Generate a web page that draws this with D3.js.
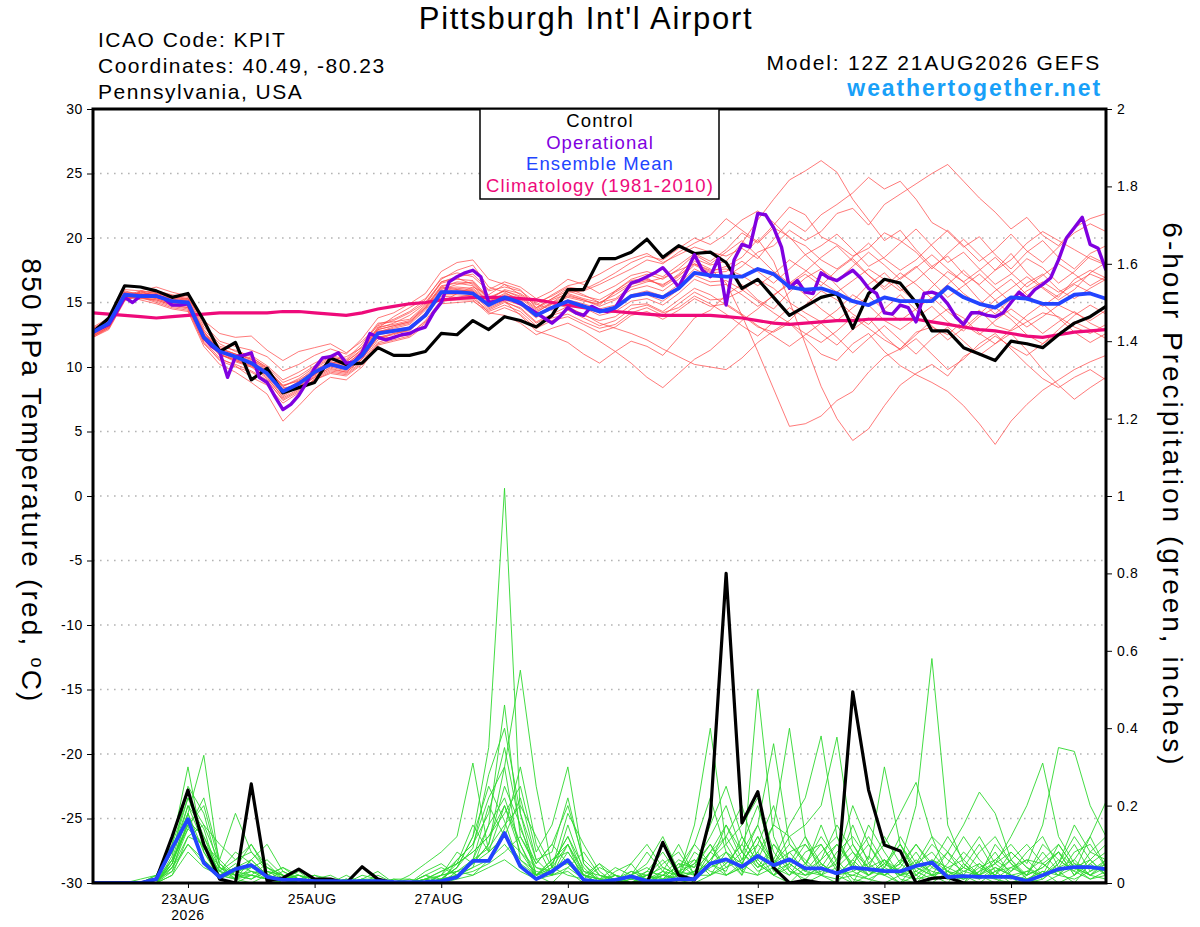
<!DOCTYPE html>
<html>
<head>
<meta charset="utf-8">
<script src="https://cdn.jsdelivr.net/npm/d3@7"></script>
<style>
  body { margin: 0; background: #fff; }
  svg { font-family: "Liberation Sans", Arial, Helvetica, sans-serif; }
</style>
</head>
<body>
<div id="chart"></div>
<script>
// ---- data (6-hourly steps from 12Z 21AUG2026, 0..384 h) ----
const runStart = Date.UTC(2026, 7, 21, 12);

const controlTemp = [12.7,13.8,16.3,16.2,15.9, 15.4,15.7,13.6,11.2,11.9, 9.0,9.9,8.0,8.4,8.8,
  10.7,10.2,10.3,11.5,10.9, 10.9,11.2,12.6,12.5,13.6, 12.9,13.9,13.6,13.1,14.0,
  16.0,16.0,18.4,18.4,18.9, 19.9,18.5,19.4,18.8,18.9, 18.1,16.1,16.8,15.4,14.0,
  14.7,15.4,15.7,13.0,15.7, 16.8,16.5,15.0,12.8,12.8, 11.5,11.0,10.5,12.0,11.8,
  11.5,12.5,13.4,13.9,14.7];

const meanTemp = [12.7,13.4,15.6,15.5,15.5, 15.1,15.0,12.3,11.2,10.8, 10.3,9.5,8.1,8.7,9.6,
  10.2,9.9,10.9,12.6,12.8, 13.0,14.0,15.8,15.8,15.7, 14.8,15.4,15.0,14.0,14.6,
  15.1,14.7,14.3,14.6,15.5, 15.7,15.4,16.1,17.3,17.1, 17.0,17.0,17.6,17.2,16.2,
  16.0,16.1,15.7,15.1,14.8, 15.4,15.1,15.1,15.1,16.2, 15.4,14.9,14.6,15.4,15.3,
  14.9,14.9,15.6,15.7,15.3];

const climTemp = [14.2,14.1,14.0,13.9,13.8, 13.9,14.0,14.1,14.2,14.2, 14.2,14.2,14.3,14.3,14.2,
  14.1,14.0,14.2,14.5,14.7, 14.9,15.0,15.2,15.3,15.4, 15.4,15.4,15.3,15.2,15.0,
  14.8,14.6,14.4,14.3,14.2, 14.1,14.0,14.0,14.0,14.0, 13.9,13.8,13.6,13.4,13.3,
  13.4,13.5,13.6,13.6,13.7, 13.7,13.7,13.7,13.5,13.3, 13.1,12.9,12.8,12.6,12.4,
  12.3,12.5,12.7,12.8,12.9];

// operational run is 3-hourly (129 values)
const operTemp = [12.7,13.0,13.3,14.3,15.4,15.0,15.5,15.5,15.5,15.3,
  14.8,14.8,14.9,13.6,12.3,11.6,11.2,9.2,10.8,10.9,
  11.1,9.2,8.8,7.7,6.7,7.1,7.8,8.8,9.9,10.7,
  10.8,11.1,10.3,10.4,11.1,12.6,12.3,12.1,12.3,12.5,
  12.6,12.9,13.1,14.2,15.0,16.6,17.0,17.3,17.5,17.0,
  15.0,15.1,15.3,15.2,14.9,14.6,14.2,13.8,13.4,13.9,
  14.6,14.2,14.0,14.7,14.4,14.3,14.6,15.6,16.5,16.7,
  17.0,17.3,17.7,17.0,16.2,17.4,18.7,17.5,17.0,18.4,
  14.8,18.3,19.5,19.3,21.9,21.8,20.8,19.3,16.1,16.7,
  15.8,15.7,17.3,16.9,16.7,17.1,17.5,16.9,16.1,15.7,
  14.2,14.1,14.8,14.6,13.5,15.7,15.8,15.6,14.9,13.9,
  13.3,14.2,14.2,14.0,13.9,14.2,15.0,15.8,15.3,16.0,
  16.4,16.9,18.3,20.0,20.8,21.6,19.5,19.2,17.5];

const memberTemp = [
  [12.5,13.2,15.4,15.8,15.6,15.3,15.2,12.8,11.0,10.4,10.0,9.8,8.6,8.9,9.4,10.5,10.8,11.5,13.0,13.9,14.6,15.3,16.8,17.5,17.9,16.2,15.8,15.1,14.2,15.0,15.8,15.9,16.4,17.0,17.6,18.3,18.0,18.9,19.6,20.2,21.5,20.6,19.7,21.0,22.4,21.8,20.1,19.5,18.6,19.2,20.4,19.8,18.9,17.6,18.8,19.9,18.7,17.5,18.3,19.6,20.5,19.8,19.1,18.4,17.9],
  [12.9,13.6,15.7,15.4,15.2,14.8,14.6,12.0,10.7,10.1,9.2,8.6,7.2,8.0,9.1,9.7,9.5,10.4,12.1,12.6,12.8,13.9,15.5,15.4,15.3,14.4,15.0,14.6,13.5,14.1,14.7,14.0,13.6,13.9,14.8,14.9,14.3,15.2,16.1,15.6,14.8,14.0,13.1,12.7,13.4,12.2,11.0,10.5,11.8,12.6,11.2,10.1,9.4,8.8,8.1,7.0,5.6,4.0,5.8,7.1,8.2,9.0,9.8,10.4,10.9],
  [12.4,13.0,15.2,15.6,15.9,15.6,15.4,13.1,11.8,11.2,10.9,10.1,9.0,9.6,10.3,10.9,10.6,11.8,13.4,13.5,13.7,14.8,16.6,16.9,16.4,15.2,16.0,15.7,14.9,14.4,15.6,15.2,14.8,15.9,16.7,16.9,16.2,17.0,18.2,17.6,16.5,14.0,11.2,8.3,5.4,5.6,6.2,7.4,8.1,9.6,10.8,11.4,12.7,13.1,12.5,13.6,14.4,13.2,12.8,13.5,14.2,13.9,13.1,12.6,13.3],
  [13.1,13.8,16.0,15.9,15.4,15.0,14.9,12.5,11.4,11.0,10.6,9.9,8.4,8.5,9.2,10.0,9.7,10.7,12.4,12.2,12.6,13.5,15.0,15.7,16.2,15.6,16.4,16.0,14.6,15.3,16.1,15.6,15.0,15.3,16.2,16.6,16.9,17.5,18.0,17.4,17.8,18.5,19.9,18.2,15.1,11.8,8.5,6.0,4.3,5.2,7.0,8.6,9.5,10.2,9.3,10.8,11.5,12.4,11.6,10.9,11.8,12.6,13.5,12.9,12.2],
  [12.6,13.3,15.5,15.3,15.6,15.2,15.1,12.2,10.9,10.6,10.2,9.3,7.8,8.6,9.8,10.4,10.2,11.2,12.9,13.2,13.5,14.6,16.2,16.0,15.8,14.6,15.2,14.8,13.8,14.9,15.4,15.1,14.9,15.8,16.5,16.8,16.3,17.2,18.4,17.9,18.2,19.6,21.4,23.0,24.5,25.2,26.0,25.1,23.0,21.4,19.8,20.6,19.1,17.8,18.6,17.2,16.4,17.5,18.8,17.3,16.2,15.4,16.8,17.5,16.9],
  [12.8,13.5,15.8,15.7,15.3,14.9,14.7,12.4,11.2,10.7,10.4,9.6,8.2,8.8,9.5,10.1,9.8,10.9,12.8,12.9,13.1,14.2,15.9,16.1,16.0,15.0,15.6,15.2,14.1,14.7,15.2,14.9,14.5,14.8,15.6,15.9,15.5,16.4,17.6,17.0,17.0,17.8,18.9,19.4,20.6,19.8,20.5,21.9,22.3,21.0,22.6,23.4,24.2,25.0,25.7,24.4,23.1,22.0,20.7,21.6,20.2,19.4,20.8,21.5,21.9],
  [12.3,12.9,15.1,15.9,16.2,15.8,15.5,13.3,12.0,11.6,11.3,10.8,9.7,10.2,10.9,11.4,11.0,12.2,13.8,14.2,14.9,15.7,17.4,18.1,18.3,16.8,16.4,15.6,14.8,15.6,16.3,16.6,17.2,17.9,18.4,18.8,18.1,18.7,19.3,18.9,18.6,19.2,18.4,19.9,21.3,20.5,21.8,22.6,23.5,24.7,23.8,24.4,23.0,21.2,20.5,19.3,20.1,18.7,17.6,18.9,19.8,18.5,17.6,18.8,19.4],
  [12.7,13.4,15.6,15.2,14.9,14.5,14.3,11.6,10.2,9.6,8.8,7.9,5.8,7.0,8.3,9.2,9.0,10.0,11.7,12.0,12.3,13.2,14.9,15.0,15.1,14.3,14.8,14.3,13.2,13.8,14.1,13.5,13.0,13.3,14.2,14.6,14.0,14.9,15.8,15.2,15.3,15.9,16.8,16.1,15.0,14.2,13.5,14.4,15.6,14.8,13.6,12.9,13.8,14.7,13.5,12.8,13.9,14.6,13.7,12.5,11.8,12.9,14.0,14.8,14.1],
  [13.0,13.7,15.9,15.6,15.8,15.5,15.3,13.6,12.6,12.3,12.4,11.3,10.5,11.2,11.5,11.8,11.1,12.0,13.2,13.6,14.2,15.0,16.6,17.0,17.2,16.0,16.6,16.2,15.3,15.9,16.8,16.4,15.7,16.3,17.1,17.4,17.0,17.9,18.8,18.2,19.1,20.4,19.6,20.8,20.1,18.7,19.4,20.3,19.1,17.8,18.5,19.6,20.7,19.4,18.1,18.9,17.6,16.4,17.2,18.4,17.7,16.5,17.4,18.6,18.0],
  [12.4,13.1,15.3,15.4,15.1,14.7,14.5,11.9,10.5,10.0,9.6,8.9,7.5,8.2,9.0,9.6,9.4,10.3,11.9,12.3,12.5,13.6,15.2,15.4,15.6,14.5,15.1,14.5,13.4,14.0,14.4,13.8,13.2,13.6,14.5,14.8,14.2,14.6,15.5,14.9,14.1,13.2,12.4,13.5,14.6,13.8,12.6,11.7,12.9,13.8,12.4,11.3,12.2,11.0,9.8,10.6,11.8,12.6,11.4,10.2,9.1,8.4,9.2,9.8,9.0],
  [12.6,13.3,15.5,15.9,15.7,15.4,15.1,12.6,11.3,10.9,10.5,9.7,8.3,8.7,9.4,10.3,10.1,11.1,12.7,13.0,13.3,14.4,16.0,16.4,16.6,15.3,15.1,14.0,12.8,12.4,11.9,11.0,10.3,11.2,12.0,11.6,10.9,12.3,13.8,14.4,15.6,16.4,15.2,14.5,15.8,16.9,17.6,16.3,15.1,16.4,17.3,16.1,15.0,16.2,17.4,16.6,15.2,14.1,15.3,16.5,17.2,16.0,15.3,16.1,16.8],
  [12.9,13.5,15.6,15.5,15.5,15.0,14.8,12.1,11.0,10.5,10.1,9.4,8.0,8.4,9.3,9.9,9.6,10.6,12.3,12.5,12.9,14.0,15.6,15.6,15.5,14.2,14.0,13.4,12.5,13.0,13.4,12.8,12.0,11.2,10.3,9.2,8.4,9.5,10.6,11.3,12.4,13.6,14.5,15.6,16.4,17.2,16.3,17.5,18.4,17.1,16.0,16.9,17.8,16.6,15.4,16.3,17.2,16.1,15.0,15.9,16.6,15.8,16.5,17.2,16.7],
  [12.5,13.1,15.3,15.6,15.4,15.1,14.9,12.3,11.1,10.8,10.3,9.5,8.1,8.9,9.9,10.6,10.4,11.4,13.1,13.3,13.6,14.7,16.3,16.5,16.3,15.0,15.5,15.0,14.3,14.9,14.6,14.1,13.4,13.0,12.6,12.1,11.4,10.8,10.2,10.0,9.8,10.7,11.9,12.8,13.6,14.8,15.9,15.2,14.1,13.3,14.5,15.6,14.4,13.2,12.1,13.0,14.1,15.2,14.0,13.1,13.9,14.8,14.2,13.6,14.4],
  [12.8,13.5,15.7,15.6,15.6,15.3,15.0,12.7,11.5,11.0,10.7,10.0,8.8,9.3,10.1,10.8,10.5,11.6,13.3,13.7,14.3,15.2,16.9,17.3,17.0,15.9,16.2,15.9,15.0,15.5,16.2,16.0,16.6,17.3,18.1,18.6,18.3,19.2,20.0,19.5,20.3,21.4,22.1,21.2,20.0,19.4,18.3,17.6,18.5,19.6,18.4,17.5,18.3,19.5,20.6,19.4,18.2,19.1,20.3,19.0,18.1,19.3,20.4,21.1,20.5],
  [12.3,13.0,15.2,15.5,15.7,15.4,15.3,12.9,11.6,11.3,10.8,9.9,8.5,9.1,10.0,10.7,10.4,11.3,13.0,13.4,14.0,14.9,16.5,16.8,16.7,15.4,15.9,15.4,14.5,15.2,15.7,15.3,15.0,15.6,16.4,16.7,16.4,17.1,18.0,17.5,17.6,17.1,16.3,17.2,18.3,17.5,16.6,15.8,16.7,17.6,16.8,15.9,16.7,17.8,16.9,15.7,14.8,15.9,16.8,15.6,14.7,15.6,16.4,15.8,15.2],
  [12.6,13.2,15.4,15.3,15.2,14.8,14.6,12.2,11.1,10.6,10.1,9.2,7.6,8.3,9.2,9.8,9.6,10.6,12.3,12.6,12.9,14.1,15.7,15.9,15.9,14.8,15.4,14.9,13.9,14.5,15.0,14.6,14.0,14.3,15.1,15.3,14.8,15.7,16.8,16.3,16.4,15.6,14.7,15.5,16.6,15.6,14.5,13.6,14.6,15.5,14.4,13.6,14.5,15.4,14.3,13.3,12.5,13.6,14.5,13.6,12.6,13.5,14.3,13.4,12.8],
  [13.0,13.6,15.8,15.4,15.0,14.6,14.4,11.8,10.6,10.2,9.7,9.0,7.4,8.1,9.0,9.5,9.3,10.2,11.8,12.1,12.4,13.4,15.1,15.2,15.2,14.1,14.6,14.1,13.0,13.6,13.9,13.3,12.7,13.1,14.0,14.3,13.7,14.4,15.3,14.7,14.9,14.1,13.2,12.4,11.6,12.5,13.4,12.3,11.1,12.2,13.2,12.1,11.0,12.2,13.1,12.0,10.9,11.8,12.6,11.3,9.8,8.6,7.5,8.4,9.2],
  [12.7,13.4,15.6,15.7,15.5,15.2,15.0,12.5,11.3,10.8,10.4,9.6,8.2,8.8,9.6,10.3,10.0,11.0,12.7,13.1,13.4,14.5,16.1,16.2,16.1,15.1,15.7,15.3,14.4,15.0,15.5,15.2,14.7,15.2,16.0,16.3,15.9,16.8,17.9,17.3,17.4,18.2,17.4,16.5,17.6,18.7,17.6,16.7,17.8,18.9,17.9,16.8,17.7,18.7,17.6,16.6,17.5,18.5,17.3,16.2,17.1,18.0,17.2,16.3,17.0],
  [12.4,13.1,15.3,15.8,15.9,15.5,15.2,12.7,11.4,11.0,10.6,9.8,8.5,9.0,9.7,10.4,10.2,11.2,12.9,13.2,13.5,14.6,16.2,16.6,16.5,15.3,15.9,15.5,14.6,15.3,15.9,15.5,15.2,15.9,16.8,17.2,16.8,17.6,18.7,18.0,18.9,19.8,18.6,17.4,16.5,17.4,18.5,19.4,18.2,17.1,16.2,17.3,16.4,15.3,16.4,17.5,16.3,15.2,16.1,17.0,16.1,15.2,16.0,17.3,18.1],
  [12.8,13.3,15.5,15.4,15.3,14.9,14.8,12.4,11.0,10.5,10.0,9.1,7.7,8.5,9.4,10.1,9.9,10.8,12.5,12.7,13.0,14.1,15.8,16.0,15.9,14.9,15.5,15.1,14.1,14.6,15.0,14.6,14.2,14.6,15.4,15.6,15.1,16.0,17.1,16.6,16.7,16.0,15.1,14.2,13.4,12.6,11.9,12.8,13.9,13.0,12.1,11.4,12.5,13.6,14.5,13.8,12.6,11.8,12.9,14.0,14.9,13.8,12.7,11.9,12.6]
];

const controlPrecip = [0,0,0,0,0.01, 0.12,0.24,0.10,0.01,0, 0.256,0.005,0.013,0.036,0.01,
  0.01,0,0.042,0.01,0, 0,0,0,0,0, 0,0,0,0,0,
  0,0,0,0,0, 0,0.105,0.02,0.008,0.17, 0.80,0.155,0.236,0.04,0,
  0.007,0,0,0.494,0.24, 0.098,0.083,0,0.012,0.015, 0,0,0,0,0,
  0,0,0,0,0];

const meanPrecip = [0,0,0,0,0.01, 0.09,0.165,0.052,0.015,0.036, 0.046,0.016,0.008,0.008,0.005,
  0.005,0.004,0.005,0.005,0.003, 0.002,0.003,0.005,0.015,0.057, 0.057,0.129,0.043,0.01,0.03,
  0.059,0.008,0.003,0.008,0.017, 0.005,0.005,0.01,0.01,0.05, 0.061,0.042,0.07,0.046,0.061,
  0.038,0.038,0.025,0.04,0.036, 0.031,0.03,0.044,0.053,0.015, 0.018,0.016,0.016,0.016,0.005,
  0.02,0.036,0.041,0.041,0.036];

const memberPrecip = [
  [0,0,0,0,0.01,0.08,0.22,0.12,0.02,0.05,0.03,0.01,0,0.01,0,0,0,0.01,0,0,0,0,0.01,0.04,0.12,0.35,1.02,0.18,0.02,0.06,0.1,0,0,0.02,0,0,0.03,0,0.01,0.08,0.12,0.05,0.02,0.1,0.04,0,0.02,0.06,0.01,0,0.04,0.1,0.02,0,0.03,0,0.05,0.01,0,0.02,0.08,0.03,0,0.05,0.02],
  [0,0,0,0,0,0.05,0.18,0.33,0.04,0.02,0.06,0.02,0.01,0,0.01,0,0.01,0,0,0,0,0.02,0,0.06,0.1,0.22,0.3,0.55,0.25,0.04,0.02,0.01,0.05,0,0,0.02,0,0.04,0.1,0.22,0.08,0.02,0.5,0.12,0.03,0.01,0.05,0.02,0,0.07,0.02,0,0.05,0.12,0.02,0,0.03,0.08,0.02,0,0.01,0.04,0.1,0.03,0.05],
  [0,0,0,0.01,0.02,0.1,0.3,0.08,0.01,0,0.02,0.05,0.01,0,0,0,0,0,0.02,0,0,0,0,0.02,0.06,0.15,0.46,0.12,0.05,0.1,0.05,0.02,0,0,0.03,0.01,0,0.02,0.15,0.4,0.1,0.03,0.08,0.02,0,0.04,0.15,0.05,0,0.02,0.06,0.01,0,0.04,0.08,0.02,0,0.03,0.06,0.01,0,0.02,0.06,0.12,0.04],
  [0,0,0,0,0.01,0.06,0.15,0.2,0.05,0.01,0,0.02,0.04,0.01,0,0.01,0,0,0,0,0.02,0.05,0.08,0.12,0.31,0.08,0.2,0.1,0.02,0,0.04,0.08,0.02,0,0,0,0.01,0.05,0.02,0.06,0.12,0.2,0.06,0.15,0.4,0.12,0.02,0,0.05,0.1,0.03,0,0.02,0.05,0.01,0.04,0.1,0.03,0,0.01,0.03,0,0.02,0.08,0.12],
  [0,0,0,0,0,0.04,0.12,0.15,0.1,0.06,0.08,0.03,0.01,0.02,0,0,0,0.02,0.01,0,0,0.01,0.03,0.05,0.08,0.12,0.18,0.25,0.08,0.15,0.3,0.05,0.01,0,0.02,0.05,0.12,0.03,0,0.02,0.05,0.1,0.04,0.06,0.15,0.22,0.38,0.12,0.03,0.01,0,0.02,0.06,0.02,0,0.05,0.02,0,0.03,0.06,0.02,0.1,0.04,0.01,0.03],
  [0,0,0,0,0.02,0.08,0.2,0.1,0.03,0.01,0.04,0.06,0.02,0,0.01,0,0.02,0,0,0,0,0,0.02,0.08,0.05,0.1,0.25,0.15,0.02,0.05,0.12,0.02,0,0.03,0.05,0,0.02,0.06,0.04,0.1,0.02,0.05,0.12,0.03,0.05,0.02,0.06,0.15,0.08,0.04,0.12,0.05,0.2,0.58,0.15,0.05,0.01,0.04,0.02,0,0.05,0.02,0.01,0.03,0.06],
  [0,0,0,0,0,0.03,0.1,0.06,0.02,0.04,0.1,0.04,0.01,0.02,0.01,0,0,0.01,0.03,0,0,0.01,0,0.03,0.02,0.06,0.14,0.3,0.1,0.02,0.08,0.02,0.01,0,0.05,0.1,0.04,0.02,0.05,0.12,0.2,0.08,0.15,0.36,0.1,0.05,0.02,0.08,0.12,0.06,0.3,0.1,0.03,0.01,0.05,0.12,0.06,0.02,0.08,0.04,0.01,0.05,0.12,0.06,0.02],
  [0,0,0,0,0.01,0.05,0.16,0.12,0.04,0.02,0.02,0.01,0.03,0.01,0,0.01,0,0,0,0,0,0.02,0.04,0.02,0.06,0.2,0.12,0.08,0.04,0.03,0.06,0.01,0.04,0.02,0,0.01,0.05,0.08,0.02,0.05,0.03,0.12,0.05,0.02,0.08,0.1,0.04,0.02,0.06,0.02,0.05,0.1,0.04,0.02,0.08,0.04,0.02,0.06,0.1,0.05,0.15,0.35,0.34,0.2,0.12],
  [0,0,0,0,0,0.07,0.25,0.18,0.03,0.08,0.05,0.02,0,0.01,0.02,0,0.01,0,0,0.01,0.01,0,0.01,0.04,0.09,0.28,0.4,0.18,0.06,0.08,0.22,0.05,0,0.02,0.01,0.03,0.02,0.01,0.08,0.05,0.15,0.06,0.1,0.05,0.12,0.15,0.2,0.377,0.1,0.03,0.02,0.05,0.1,0.04,0.02,0.01,0.03,0.05,0.12,0.2,0.31,0.12,0.05,0.02,0.04],
  [0,0,0,0,0.01,0.04,0.14,0.22,0.06,0.02,0.01,0.03,0.02,0,0,0,0,0.01,0.01,0,0,0,0.01,0.02,0.05,0.1,0.3,0.06,0.03,0.02,0.15,0.03,0.02,0.01,0,0.02,0.06,0.01,0.03,0.08,0.05,0.1,0.2,0.06,0.02,0.08,0.1,0.04,0.15,0.05,0.1,0.18,0.26,0.12,0.08,0.15,0.235,0.18,0.06,0.02,0.04,0.08,0.02,0.06,0.1],
  [0,0,0,0,0,0.06,0.2,0.14,0.01,0.03,0.02,0.01,0.01,0.02,0,0,0,0,0.01,0,0,0.03,0.05,0.02,0.04,0.15,0.22,0.1,0.01,0.04,0.18,0.1,0.03,0,0.02,0.04,0.01,0.03,0.02,0.06,0.1,0.15,0.22,0.08,0.03,0.02,0.04,0.1,0.05,0.02,0.06,0.03,0.01,0.05,0.12,0.06,0.02,0.01,0.04,0.02,0.1,0.06,0.03,0.12,0.21],
  [0,0,0,0,0,0.05,0.18,0.08,0.02,0.01,0.06,0.1,0.03,0.01,0,0,0,0,0,0.01,0,0,0.01,0.05,0.15,0.08,0.12,0.22,0.06,0.02,0.1,0.02,0.01,0.04,0.02,0.08,0.03,0.02,0.1,0.05,0.02,0.04,0.08,0.15,0.12,0.05,0.12,0.06,0.2,0.1,0.04,0.02,0.05,0.08,0.03,0.02,0.08,0.12,0.05,0.01,0.02,0.05,0.15,0.08,0.06],
  [0,0,0,0,0.02,0.1,0.22,0.15,0.05,0.02,0.03,0.02,0.04,0.02,0.01,0,0.01,0,0,0,0.01,0,0.02,0.06,0.1,0.18,0.35,0.14,0.05,0.1,0.2,0.06,0.02,0.01,0,0,0.02,0.04,0.06,0.02,0.08,0.05,0.12,0.05,0.08,0.03,0.08,0.12,0.04,0.15,0.08,0.02,0.04,0.1,0.06,0.03,0.05,0.02,0.06,0.1,0.05,0.02,0.08,0.1,0.04],
  [0,0,0,0,0,0.02,0.12,0.1,0.06,0.18,0.08,0.04,0.02,0.01,0.02,0.01,0,0,0,0,0,0.01,0.03,0.05,0.08,0.12,0.2,0.08,0.02,0.05,0.12,0.04,0,0.01,0.03,0.02,0.01,0.05,0.04,0.15,0.25,0.12,0.05,0.02,0.04,0.1,0.05,0.02,0.06,0.12,0.05,0.03,0.08,0.02,0.04,0.06,0.12,0.05,0.02,0.03,0.06,0.1,0.04,0.02,0.01],
  [0,0,0,0,0.01,0.03,0.16,0.06,0.02,0.04,0.06,0.02,0.01,0,0.01,0,0,0,0,0,0,0.02,0.01,0.04,0.12,0.25,0.16,0.04,0.02,0.06,0.08,0.02,0.01,0.02,0,0.03,0.08,0.02,0.01,0.04,0.06,0.02,0.1,0.2,0.05,0.02,0.03,0.05,0.1,0.04,0.02,0.06,0.04,0.02,0.01,0.03,0.02,0.1,0.05,0.02,0.04,0.08,0.02,0.05,0.08],
  [0,0,0,0,0,0.04,0.1,0.05,0.03,0.02,0.01,0.04,0.02,0,0,0,0,0,0.01,0,0,0,0.02,0.03,0.06,0.09,0.15,0.2,0.12,0.04,0.05,0.01,0,0.01,0.02,0.01,0.03,0.1,0.02,0.02,0.04,0.08,0.03,0.05,0.1,0.06,0.02,0.04,0.08,0.02,0.04,0.12,0.05,0.03,0.02,0.01,0.04,0.06,0.03,0.08,0.12,0.04,0.06,0.02,0.05],
  [0,0,0,0,0,0.06,0.14,0.1,0.04,0.01,0.02,0.01,0,0,0.01,0.02,0,0,0,0,0,0,0.01,0.02,0.04,0.06,0.1,0.05,0.02,0.03,0.06,0.02,0.05,0.02,0.01,0.02,0,0.03,0.05,0.1,0.04,0.06,0.15,0.04,0.02,0.05,0.1,0.03,0.02,0.01,0.03,0.05,0.02,0.06,0.03,0.08,0.04,0.02,0.01,0.03,0.02,0.06,0.03,0.01,0.02],
  [0,0,0,0,0.01,0.08,0.18,0.05,0.01,0.03,0.04,0.02,0.01,0.03,0,0,0,0,0,0,0,0.01,0,0.02,0.03,0.05,0.08,0.12,0.04,0.02,0.04,0.01,0,0,0.01,0.02,0.04,0.02,0.06,0.03,0.02,0.04,0.06,0.02,0.05,0.12,0.05,0.02,0.03,0.05,0.02,0.04,0.1,0.05,0.02,0.04,0.02,0.05,0.08,0.04,0.02,0.03,0.05,0.04,0.03],
  [0,0,0,0,0,0.02,0.08,0.04,0.02,0.01,0.03,0.02,0,0,0,0,0,0,0,0,0,0,0,0.01,0.02,0.04,0.06,0.03,0.01,0.02,0.03,0,0,0,0.01,0,0.01,0.02,0.03,0.05,0.08,0.03,0.02,0.04,0.06,0.03,0.02,0.01,0.02,0.04,0.06,0.02,0.01,0.02,0.03,0.01,0.02,0.04,0.02,0.01,0.03,0.02,0.04,0.06,0.02],
  [0,0,0,0,0,0.05,0.15,0.09,0.03,0.06,0.1,0.03,0.02,0.01,0,0,0,0.01,0,0,0,0.01,0.02,0.03,0.05,0.08,0.12,0.06,0.02,0.04,0.1,0.03,0.01,0,0,0.01,0.02,0.01,0.03,0.08,0.15,0.08,0.04,0.1,0.06,0.03,0.06,0.1,0.04,0.02,0.05,0.02,0.03,0.06,0.04,0.02,0.01,0.03,0.04,0.06,0.05,0.08,0.04,0.02,0.06]
];

// axis ticks
const tempTicks = [-30,-25,-20,-15,-10,-5,0,5,10,15,20,25,30];
const precipTicks = [0,0.2,0.4,0.6,0.8,1,1.2,1.4,1.6,1.8,2];
const dayTicks = [Date.UTC(2026,7,23), Date.UTC(2026,7,25), Date.UTC(2026,7,27), Date.UTC(2026,7,29),
  Date.UTC(2026,8,1), Date.UTC(2026,8,3), Date.UTC(2026,8,5)];
const dayLabels = ["23AUG","25AUG","27AUG","29AUG","1SEP","3SEP","5SEP"];
const legendItems = [
  {name: "Control", color: "#000000"},
  {name: "Operational", color: "#8000e0"},
  {name: "Ensemble Mean", color: "#2244ff"},
  {name: "Climatology (1981-2010)", color: "#ee0a7a"}
];

// ---- layout ----
const fullW = 1200, fullH = 927;
const margin = {top: 109, right: 94, bottom: 44, left: 93},
    width = fullW - margin.left - margin.right,
    height = fullH - margin.top - margin.bottom;

const svg = d3.select("#chart")
  .append("svg")
    .attr("width", fullW)
    .attr("height", fullH);

svg.append("rect").attr("width", fullW).attr("height", fullH).attr("fill", "#fff");

const g = svg.append("g")
    .attr("transform", `translate(${margin.left},${margin.top})`);

g.append("clipPath").attr("id", "plotClip")
  .append("rect").attr("width", width).attr("height", height);

// scales
const x = d3.scaleUtc()
  .domain([new Date(runStart), new Date(runStart + 384 * 3600e3)])
  .range([0, width]);
const yT = d3.scaleLinear().domain([-30, 30]).range([height, 0]);
const yP = d3.scaleLinear().domain([0, 2]).range([height, 0]);

const t6 = i => new Date(runStart + i * 6 * 3600e3);
const t3 = i => new Date(runStart + i * 3 * 3600e3);

// grid
g.append("g")
  .selectAll("line")
  .data(tempTicks.filter(d => d > -30 && d < 30))
  .enter().append("line")
    .attr("x1", 0).attr("x2", width)
    .attr("y1", d => yT(d)).attr("y2", d => yT(d))
    .attr("stroke", "#b4b4b4")
    .attr("stroke-width", 1.6)
    .attr("stroke-dasharray", "1.6,5.4");

const plot = g.append("g").attr("clip-path", "url(#plotClip)");

const lineT6 = d3.line().x((d, i) => x(t6(i))).y(d => yT(d));
const lineT3 = d3.line().x((d, i) => x(t3(i))).y(d => yT(d));
const lineP6 = d3.line().x((d, i) => x(t6(i))).y(d => yP(d));

// ensemble members
plot.append("g").selectAll("path")
  .data(memberTemp)
  .enter().append("path")
    .attr("d", lineT6)
    .attr("fill", "none")
    .attr("stroke", "#ff4545")
    .attr("stroke-opacity", 0.8)
    .attr("stroke-width", 0.9);

plot.append("g").selectAll("path")
  .data(memberPrecip)
  .enter().append("path")
    .attr("d", lineP6)
    .attr("fill", "none")
    .attr("stroke", "#2fd82f")
    .attr("stroke-width", 0.9);

// climatology, control, operational, mean
plot.append("path").datum(climTemp)
  .attr("d", lineT6).attr("fill", "none")
  .attr("stroke", "#ee0a7a").attr("stroke-width", 3.2);

plot.append("path").datum(controlTemp)
  .attr("d", lineT6).attr("fill", "none")
  .attr("stroke", "#000").attr("stroke-width", 3.2).attr("stroke-linejoin", "round");

plot.append("path").datum(controlPrecip)
  .attr("d", lineP6).attr("fill", "none")
  .attr("stroke", "#000").attr("stroke-width", 3.2).attr("stroke-linejoin", "round");

plot.append("path").datum(operTemp)
  .attr("d", lineT3).attr("fill", "none")
  .attr("stroke", "#8000e0").attr("stroke-width", 3.4).attr("stroke-linejoin", "round");

plot.append("path").datum(meanTemp)
  .attr("d", lineT6).attr("fill", "none")
  .attr("stroke", "#2244ff").attr("stroke-width", 3.8).attr("stroke-linejoin", "round");

plot.append("path").datum(meanPrecip)
  .attr("d", lineP6).attr("fill", "none")
  .attr("stroke", "#2244ff").attr("stroke-width", 3.8).attr("stroke-linejoin", "round");

// axes
const tickFont = sel => sel.selectAll("text")
  .style("font-size", "14px")
  .style("letter-spacing", "0.6px")
  .attr("fill", "#000");

const axL = g.append("g")
  .call(d3.axisLeft(yT).tickValues(tempTicks).tickSize(6).tickPadding(4).tickFormat(d => String(d)));
axL.select(".domain").remove();
axL.call(tickFont);

const axR = g.append("g")
  .attr("transform", `translate(${width},0)`)
  .call(d3.axisRight(yP).tickValues(precipTicks).tickSize(6).tickPadding(5).tickFormat(d => String(+d.toFixed(1))));
axR.select(".domain").remove();
axR.call(tickFont);

const axB = g.append("g")
  .attr("transform", `translate(0,${height})`)
  .call(d3.axisBottom(x).tickValues(dayTicks.map(d => new Date(d))).tickSize(5).tickPadding(6)
    .tickFormat((d, i) => dayLabels[i]));
axB.select(".domain").remove();
axB.call(tickFont);
axB.selectAll("text").attr("dx", "-0.2em");

g.append("text")
  .attr("x", x(new Date(dayTicks[0])))
  .attr("y", height + 37)
  .attr("text-anchor", "middle")
  .style("font-size", "14px")
  .style("letter-spacing", "0.6px")
  .text("2026");

// frame
g.append("rect")
  .attr("width", width).attr("height", height)
  .attr("fill", "none")
  .attr("stroke", "#000")
  .attr("stroke-width", 3);

// legend
const leg = svg.append("g");
leg.append("rect")
  .attr("x", 480).attr("y", 109)
  .attr("width", 239).attr("height", 90)
  .attr("fill", "#fff")
  .attr("stroke", "#000")
  .attr("stroke-width", 1.5);
leg.selectAll("text")
  .data(legendItems)
  .enter().append("text")
    .attr("x", 600)
    .attr("y", (d, i) => 127 + i * 21.7)
    .attr("text-anchor", "middle")
    .attr("fill", d => d.color)
    .style("font-size", "18.5px")
    .style("letter-spacing", "1.1px")
    .text(d => d.name);

// titles
svg.append("text")
  .attr("x", 586).attr("y", 29)
  .attr("text-anchor", "middle")
  .style("font-size", "31px")
  .style("letter-spacing", "1.7px")
  .text("Pittsburgh Int'l Airport");

const infoLines = ["ICAO Code: KPIT", "Coordinates: 40.49, -80.23", "Pennsylvania, USA"];
svg.append("g").selectAll("text")
  .data(infoLines)
  .enter().append("text")
    .attr("x", 98)
    .attr("y", (d, i) => 47 + i * 26)
    .style("font-size", "21px")
    .style("letter-spacing", "1.5px")
    .text(d => d);

svg.append("text")
  .attr("x", 1101).attr("y", 70)
  .attr("text-anchor", "end")
  .style("font-size", "21px")
  .style("letter-spacing", "1.8px")
  .text("Model: 12Z 21AUG2026 GEFS");

svg.append("text")
  .attr("x", 1102).attr("y", 96)
  .attr("text-anchor", "end")
  .attr("fill", "#18a0f8")
  .style("font-size", "23px")
  .style("font-weight", "bold")
  .style("letter-spacing", "1.9px")
  .text("weathertogether.net");

// axis titles (both read top to bottom)
svg.append("text")
  .attr("transform", "translate(22,481) rotate(90)")
  .attr("text-anchor", "middle")
  .style("font-size", "28px")
  .style("letter-spacing", "2.2px")
  .html("850 hPa Temperature (red, <tspan dy='-9' font-size='18px'>o</tspan><tspan dy='9'>C)</tspan>");

svg.append("text")
  .attr("transform", "translate(1163,495) rotate(90)")
  .attr("text-anchor", "middle")
  .style("font-size", "28px")
  .style("letter-spacing", "3px")
  .text("6-hour Precipitation (green, inches)");
</script>
</body>
</html>
